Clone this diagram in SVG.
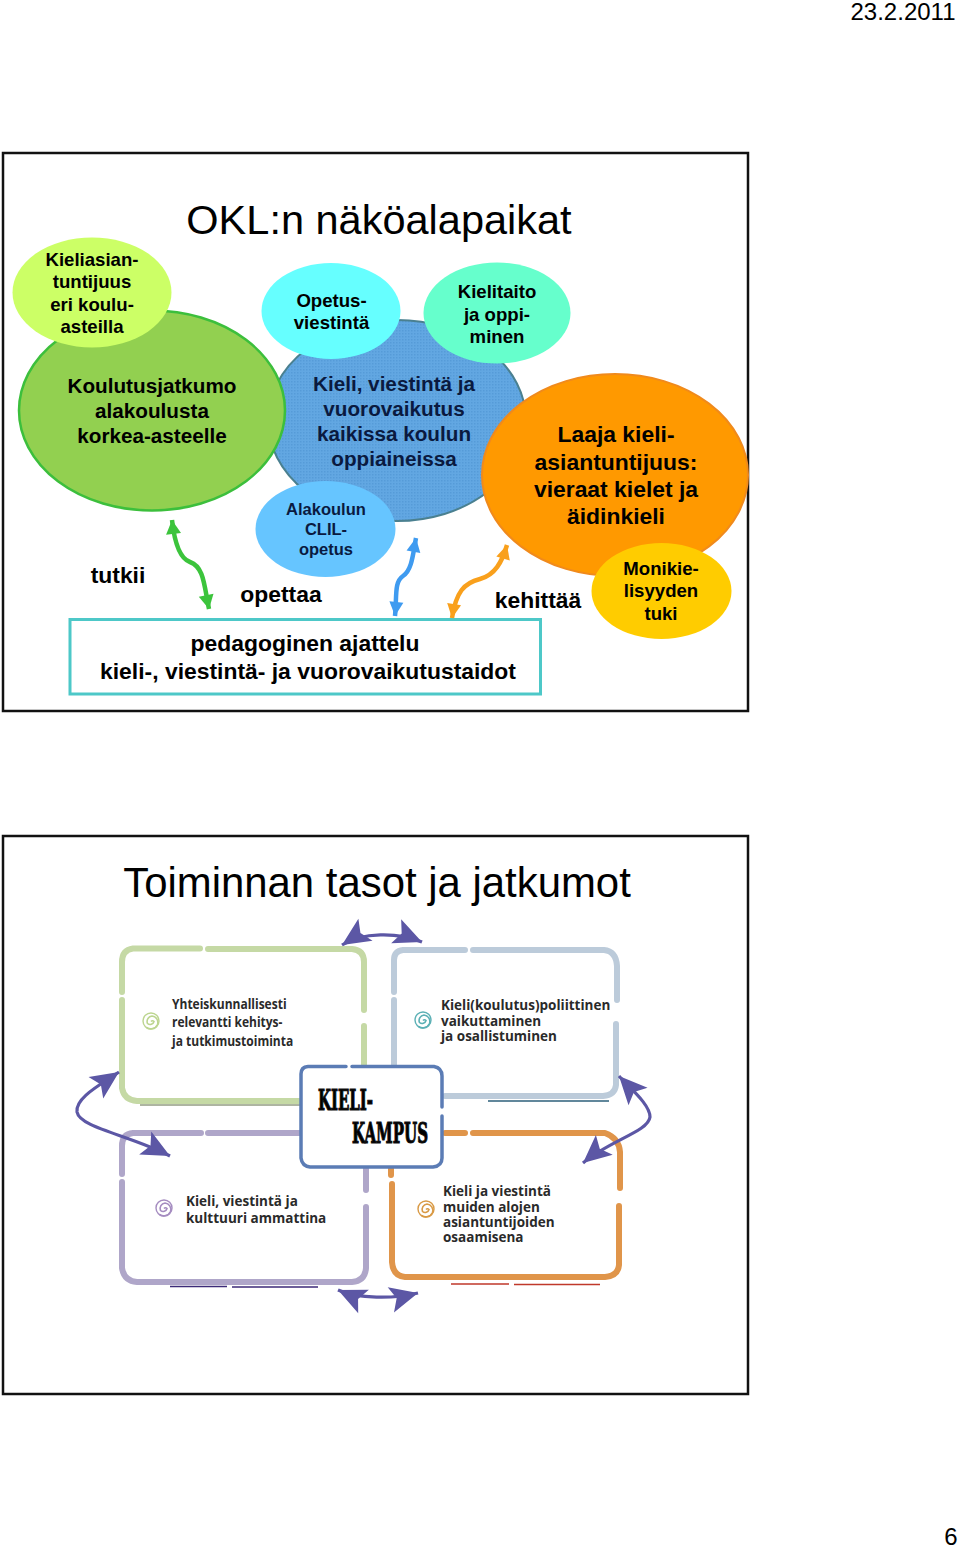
<svg xmlns="http://www.w3.org/2000/svg" width="960" height="1546" viewBox="0 0 960 1546">
<style>
text{font-family:"Liberation Sans",Arial,sans-serif;fill:#000;text-anchor:middle}
.b{font-weight:700}
.s16{font-size:16.5px}.s19{font-size:18.6px}.s21{font-size:20.7px}.s23{font-size:22.9px}
.p{font-size:24px}
.navy{fill:#0a1a40}
.i{font-family:"Open Sans","Liberation Sans",sans-serif;font-weight:700;font-size:13.5px;text-anchor:start;fill:#2a2a2a}
.k{font-family:"DejaVu Serif Condensed","DejaVu Serif",serif;font-weight:700;font-size:28px;text-anchor:start;stroke:#111;stroke-width:1.1}
.frame{fill:#fff;stroke:#111;stroke-width:2.5}
.box{fill:none;stroke-width:6;stroke-linecap:round;stroke-linejoin:round}
.sp{fill:none;stroke-width:1.6}
.w{fill:none;stroke-width:4.5}
.a{fill:none;stroke:#5c57a5;stroke-width:3.2}
</style>
<defs>
<pattern id="dots" width="3" height="3" patternUnits="userSpaceOnUse"><rect width="3" height="3" fill="#62a7e2"/><rect width="1.500" height="1.500" fill="#559bd8"/></pattern>
<marker id="mg" markerUnits="userSpaceOnUse" viewBox="0 0 24 24" refX="20" refY="12" markerWidth="24" markerHeight="24" orient="auto-start-reverse"><path d="M20 12L6 4.500L6 19.500Z" fill="#3cc43c"/></marker>
<marker id="mb" markerUnits="userSpaceOnUse" viewBox="0 0 24 24" refX="20" refY="12" markerWidth="24" markerHeight="24" orient="auto-start-reverse"><path d="M20 12L6 5L6 19Z" fill="#3f9bf0"/></marker>
<marker id="mo" markerUnits="userSpaceOnUse" viewBox="0 0 24 24" refX="20" refY="12" markerWidth="24" markerHeight="24" orient="auto-start-reverse"><path d="M20 12L6 5L6 19Z" fill="#f9a01c"/></marker>
<marker id="mp" markerUnits="userSpaceOnUse" viewBox="0 0 34 34" refX="32" refY="17" markerWidth="34" markerHeight="34" orient="auto-start-reverse"><path d="M32 17L4 4L10 17L4 30Z" fill="#5c57a5"/></marker>
<g id="spiral"><path class="sp" d="M0 0.500a2 2 0 0 1 3 0a4 4 0 0 1-6.500 2a5.500 5.500 0 0 1 4.500-7.500a6.500 6.500 0 0 1 5.500 8.500a7.500 7.500 0 0 1-11 3"/><circle r="8" fill="none" stroke-width="1.400"/></g>
</defs>
<rect width="960" height="1546" fill="#fff"/>
<text class="p" x="903" y="20">23.2.2011</text>
<text class="p" x="951" y="1545">6</text>

<g id="slide1-frame"><rect class="frame" x="3" y="153" width="745" height="558"/></g>
<text x="379" y="234" font-size="41.500">OKL:n näköalapaikat</text>

<g id="node-kieli-viestinta">
<ellipse cx="397" cy="420.500" rx="129" ry="100.500" fill="url(#dots)" stroke="#4a8090" stroke-width="2"/>
<text class="b s21 navy"><tspan class="navy" x="394" y="391">Kieli, viestintä ja</tspan><tspan class="navy" x="394" y="416">vuorovaikutus</tspan><tspan class="navy" x="394" y="441">kaikissa koulun</tspan><tspan class="navy" x="394" y="466">oppiaineissa</tspan></text>
</g>
<g id="node-koulutusjatkumo">
<ellipse cx="152" cy="410.500" rx="133" ry="100" fill="#92d050" stroke="#3cbf3c" stroke-width="2.500"/>
<text class="b s21"><tspan x="152" y="393">Koulutusjatkumo</tspan><tspan x="152" y="418">alakoulusta</tspan><tspan x="152" y="443">korkea-asteelle</tspan></text>
</g>
<g id="node-kieliasiantuntijuus">
<ellipse cx="92" cy="292.500" rx="79.500" ry="55" fill="#ccff66"/>
<text class="b s19"><tspan x="92" y="266">Kieliasian-</tspan><tspan x="92" y="288">tuntijuus</tspan><tspan x="92" y="311">eri koulu-</tspan><tspan x="92" y="333">asteilla</tspan></text>
</g>
<g id="node-opetusviestinta">
<ellipse cx="331" cy="311" rx="69.500" ry="48" fill="#66ffff"/>
<text class="b s19"><tspan x="331.500" y="307">Opetus-</tspan><tspan x="331.500" y="329">viestintä</tspan></text>
</g>
<g id="node-kielitaito">
<ellipse cx="497" cy="313" rx="73.500" ry="50.500" fill="#66ffcc"/>
<text class="b s19"><tspan x="497" y="298">Kielitaito</tspan><tspan x="497" y="321">ja oppi-</tspan><tspan x="497" y="343">minen</tspan></text>
</g>
<g id="node-clil">
<ellipse cx="325.500" cy="529" rx="70" ry="48" fill="#66c5ff"/>
<text class="b s16 navy"><tspan class="navy" x="326" y="515">Alakoulun</tspan><tspan class="navy" x="326" y="535">CLIL-</tspan><tspan class="navy" x="326" y="555">opetus</tspan></text>
</g>
<g id="node-laaja">
<ellipse cx="615" cy="475" rx="133" ry="101" fill="#ff9900" stroke="#f08a1c" stroke-width="2"/>
<text class="b s23"><tspan x="616" y="442">Laaja kieli-</tspan><tspan x="616" y="470">asiantuntijuus:</tspan><tspan x="616" y="497">vieraat kielet ja</tspan><tspan x="616" y="524">äidinkieli</tspan></text>
</g>
<g id="node-monikielisyys">
<ellipse cx="661.500" cy="591" rx="70" ry="48" fill="#ffcc00"/>
<text class="b s19"><tspan x="661" y="575">Monikie-</tspan><tspan x="661" y="597">lisyyden</tspan><tspan x="661" y="620">tuki</tspan></text>
</g>
<g id="node-pedagoginen">
<rect x="70" y="619.500" width="470.500" height="74.500" fill="#fff" stroke="#4dc8c8" stroke-width="3"/>
<text class="b s23"><tspan x="305" y="651">pedagoginen ajattelu</tspan><tspan x="308" y="679">kieli-, viestintä- ja vuorovaikutustaidot</tspan></text>
</g>
<g id="labels-slide1">
<text class="b s23" x="118" y="583">tutkii</text>
<text class="b s23" x="281" y="602">opettaa</text>
<text class="b s23" x="538" y="608">kehittää</text>
</g>
<g id="connectors-slide1">
<path class="w" stroke="#3cc43c" marker-start="url(#mg)" marker-end="url(#mg)" d="M172 520C174 538 178 558 190 562C204 567 204 585 209 609"/>
<path class="w" stroke="#3f9bf0" marker-start="url(#mb)" marker-end="url(#mb)" d="M416 538C413 554 412 570 403 576C394 582 397 596 395 616"/>
<path class="w" stroke="#f9a01c" marker-start="url(#mo)" marker-end="url(#mo)" d="M507 545C502 562 495 575 480 579C464 583 456 592 452 618"/>
</g>

<g id="slide2-frame"><rect class="frame" x="3" y="836" width="745" height="558"/></g>
<text x="377" y="897" font-size="41.900">Toiminnan tasot ja jatkumot</text>

<g id="node-yhteiskunnallisesti">
<path class="box" stroke="#c5d9a5" d="M200 948.500H133Q122 950 122 962V992M122 1000V1088Q124 1100 137 1101H302M364 1066V1026M364 1010V962Q364 950 352 949H208"/>
<path d="M140 1105H300" stroke="#5d6b45" stroke-width="1"/>
<use href="#spiral" x="151" y="1021" stroke="#bcd58f"/>
<text class="i" transform="matrix(.89 0 0 1 172 0)"><tspan x="0" y="1009">Yhteiskunnallisesti</tspan><tspan x="0" y="1027">relevantti kehitys-</tspan><tspan x="0" y="1046">ja tutkimustoiminta</tspan></text>
</g>
<g id="node-poliittinen">
<path class="box" stroke="#bccbda" d="M465 950H403Q394 951 394 960V992M394 1000V1066M473 950H604Q616 951 617 966V1000M616 1024V1085Q615 1095 603 1096H445"/>
<path d="M488 1101H609" stroke="#2c5f7a" stroke-width="1.500"/>
<use href="#spiral" x="423" y="1020" stroke="#5bb0b5"/>
<text class="i"><tspan x="441" y="1010">Kieli(koulutus)poliittinen</tspan><tspan x="441" y="1026">vaikuttaminen</tspan><tspan x="441" y="1041">ja osallistuminen</tspan></text>
</g>
<g id="node-ammatti">
<path class="box" stroke="#afa6c9" d="M201 1133H133Q122 1134 122 1146V1174M122 1182V1268Q124 1281 137 1282H352Q365 1281 366 1268V1207M366 1190V1168M208 1133H302"/>
<path d="M170 1286.500H227M232 1287H318" stroke="#3c2a78" stroke-width="1.500"/>
<use href="#spiral" x="164" y="1208" stroke="#a58cc0"/>
<text class="i"><tspan x="186" y="1206">Kieli, viestintä ja</tspan><tspan x="186" y="1223">kulttuuri ammattina</tspan></text>
</g>
<g id="node-asiantuntijat">
<path class="box" stroke="#e0954a" d="M465 1133H445M473 1133H605Q619 1138 620 1152V1188M619 1206V1265Q618 1276 605 1277H405Q393 1276 392 1262V1184M391 1175V1168"/>
<path d="M451 1284H509M514 1284.500H600" stroke="#c0392b" stroke-width="1.300"/>
<use href="#spiral" x="426" y="1209" stroke="#d99a45"/>
<text class="i"><tspan x="443" y="1196">Kieli ja viestintä</tspan><tspan x="443" y="1212">muiden alojen</tspan><tspan x="443" y="1227">asiantuntijoiden</tspan><tspan x="443" y="1242">osaamisena</tspan></text>
</g>
<g id="node-kampus">
<rect x="301" y="1067" width="142" height="100" rx="8" fill="#fff"/>
<path class="box" stroke="#5b7cb5" style="stroke-width:3.500" d="M346 1066.500H308Q301 1067 301 1074V1158Q302 1166 310 1167H433Q442 1166 442 1158V1116M442 1107V1076Q442 1068 434 1066.500H352"/>
<text class="k" x="318" y="1110" textLength="55" lengthAdjust="spacingAndGlyphs">KIELI-</text>
<text class="k" x="352" y="1143" textLength="76" lengthAdjust="spacingAndGlyphs">KAMPUS</text>
</g>
<g id="connectors-slide2">
<path class="a" marker-start="url(#mp)" marker-end="url(#mp)" d="M342 945C362 932 398 932 422 942"/>
<path class="a" marker-start="url(#mp)" marker-end="url(#mp)" d="M338 1290C358 1299 394 1299 418 1293"/>
<path class="a" marker-start="url(#mp)" marker-end="url(#mp)" d="M119 1072C100 1085 75 1098 77 1112C80 1128 130 1135 170 1156"/>
<path class="a" marker-start="url(#mp)" marker-end="url(#mp)" d="M619 1076C632 1090 650 1105 650 1117C648 1132 610 1140 583 1163"/>
</g>
</svg>
